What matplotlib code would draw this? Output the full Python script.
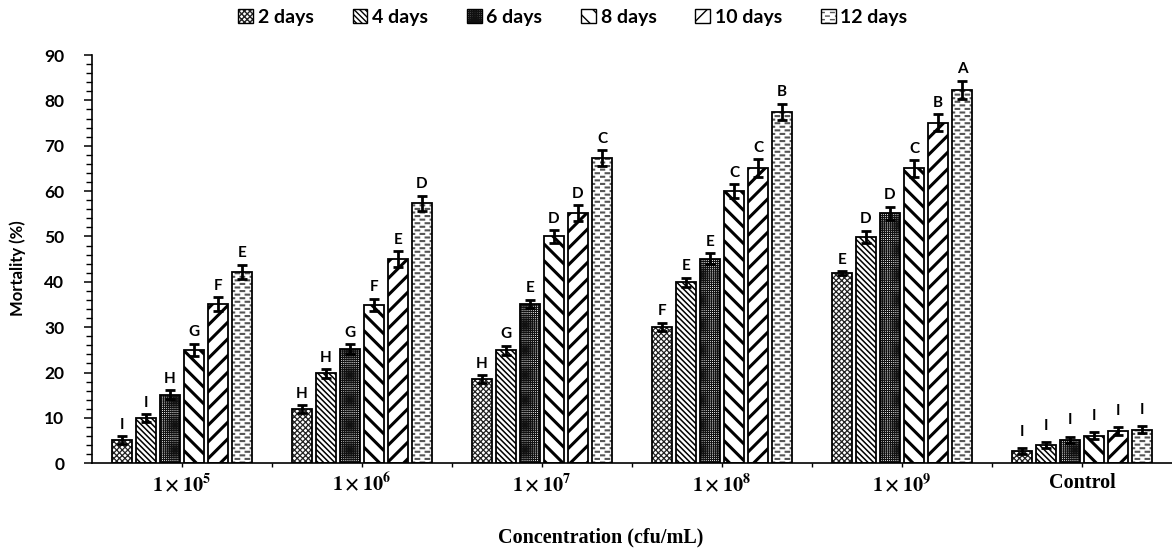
import numpy as np
import matplotlib
matplotlib.use("Agg")
import matplotlib.pyplot as plt
import matplotlib.hatch as mhatch
from matplotlib.path import Path
from matplotlib.patches import Patch
from matplotlib.legend_handler import HandlerTuple

# ---------------- data ----------------
groups = [r"$\mathbf{1\times10^{5}}$", r"$\mathbf{1\times10^{6}}$", r"$\mathbf{1\times10^{7}}$",
          r"$\mathbf{1\times10^{8}}$", r"$\mathbf{1\times10^{9}}$", "Control"]
series_names = ["2 days", "4 days", "6 days", "8 days", "10 days", "12 days"]

d2 = [5.1, 11.9, 18.5, 30.1, 41.9, 2.7]
d4 = [9.9, 19.8, 24.9, 39.9, 49.9, 4.0]
d6 = [15.1, 25.1, 35.1, 45.1, 55.1, 5.2]
d8 = [25.0, 34.9, 50.0, 60.0, 65.0, 6.1]
d10 = [35.1, 45.0, 55.1, 65.1, 75.1, 7.1]
d12 = [42.2, 57.3, 67.3, 77.4, 82.3, 7.4]

e2 = [0.9, 0.9, 0.9, 0.9, 0.4, 0.6]
e4 = [0.9, 0.9, 1.0, 1.0, 1.3, 0.6]
e6 = [0.95, 1.1, 0.9, 1.2, 1.5, 0.7]
e8 = [1.3, 1.4, 1.4, 1.5, 1.8, 0.8]
e10 = [1.5, 1.7, 1.8, 1.9, 1.8, 0.8]
e12 = [1.6, 1.7, 1.7, 1.8, 2.0, 0.8]

l2 = ["I", "H", "H", "F", "E", "I"]
l4 = ["I", "H", "G", "E", "D", "I"]
l6 = ["H", "G", "E", "E", "D", "I"]
l8 = ["G", "F", "D", "C", "C", "I"]
l10 = ["F", "E", "D", "C", "B", "I"]
l12 = ["E", "D", "C", "B", "A", "I"]

values = [d2, d4, d6, d8, d10, d12]
errors = [e2, e4, e6, e8, e10, e12]
letters = [l2, l4, l6, l8, l10, l12]

# ---------------- custom dashed hatch (replaces horizontal hatch) ----------------
class DashHatch(mhatch.HatchPatternBase):
    def __init__(self, hatch, density):
        self.dash = hatch.count('-') > 0
        if self.dash:
            self.rows, self.cols = 28, 10
            self.num_lines = self.rows * self.cols
        else:
            self.num_lines = int(hatch.count('+') * density)
        self.num_vertices = self.num_lines * 2

    def set_vertices_and_codes(self, vertices, codes):
        if self.dash:
            k = 0
            for r in range(self.rows):
                y = (r + 0.5) / self.rows
                off = 0.0 if r % 2 == 0 else 0.05
                for c in range(self.cols):
                    x0 = c * 0.1 + 0.006 + off
                    vertices[2 * k] = (x0, y)
                    vertices[2 * k + 1] = (x0 + 0.036, y)
                    k += 1
        else:
            steps, stepsize = np.linspace(0.0, 1.0, self.num_lines, False, retstep=True)
            steps += stepsize / 2.
            vertices[0::2, 0] = 0.0
            vertices[0::2, 1] = steps
            vertices[1::2, 0] = 1.0
            vertices[1::2, 1] = steps
        codes[0::2] = Path.MOVETO
        codes[1::2] = Path.LINETO

_i = mhatch._hatch_types.index(mhatch.HorizontalHatch)
mhatch._hatch_types[_i] = DashHatch

# ---------------- style ----------------
plt.rcParams['font.family'] = ['Lato', 'DejaVu Sans']
plt.rcParams['mathtext.fontset'] = 'stix'

hatches = ['xxxxxx', '\\\\\\\\\\\\', '++++++++', '\\\\', '//', '-']
hatch_colors = ['#222222', 'black', '#111111', 'black', 'black', '#555555']
hatch_lws = [0.9, 1.1, 0.8, 2.2, 2.2, 1.5]

fig = plt.figure(figsize=(11.72, 5.48), dpi=100)
ax = fig.add_axes([92 / 1172, 1 - 463.3 / 548, 1 - 92 / 1172, (463.3 - 55) / 548])

x = np.arange(len(groups))
step = 24 / 180
width = 20 / 180

legend_handles = []
for j in range(len(series_names)):
    pos = x + (j - 2.5) * step
    with plt.rc_context({'hatch.linewidth': hatch_lws[j]}):
        hb = ax.bar(pos, values[j], width, color='white', edgecolor=hatch_colors[j],
                    hatch=hatches[j], linewidth=0, zorder=2)
        for p in hb:
            try:
                p.set_hatch_linewidth(hatch_lws[j])
            except AttributeError:
                pass
        ax.bar(pos, values[j], width, fill=False, edgecolor='black', linewidth=1.3, zorder=3)
        ax.errorbar(pos, values[j], yerr=errors[j], fmt='none', ecolor='black',
                    elinewidth=2.0, capsize=3.5, capthick=2.0, zorder=4)
        hp = Patch(facecolor='white', edgecolor=hatch_colors[j], hatch=hatches[j], linewidth=0)
        try:
            hp.set_hatch_linewidth(min(hatch_lws[j], 1.2))
        except AttributeError:
            pass
    op = Patch(facecolor='none', edgecolor='black', linewidth=1.0)
    legend_handles.append((hp, op))
    for i in range(len(groups)):
        gap = 2.0 if groups[i] == "Control" else 1.0
        ax.text(pos[i], values[j][i] + errors[j][i] + gap, letters[j][i],
                ha='center', va='bottom', fontsize=11, fontweight='bold', zorder=5)

ax.set_xlim(-0.5, len(groups) - 0.5)
ax.set_ylim(0, 90)
ax.set_yticks(np.arange(0, 91, 10))
ax.set_yticks(np.arange(0, 91, 2), minor=True)
ax.tick_params(axis='y', which='major', length=6, width=1.1, pad=14, labelsize=12.5)
ax.tick_params(axis='y', which='minor', length=4, width=1.0)
for lab in ax.get_yticklabels():
    lab.set_fontweight('bold')

ax.set_xticks(x[:-1] + 0.5)
ax.set_xticklabels([])
ax.set_xticks(x, minor=True)
ax.set_xticklabels(groups, minor=True, fontsize=14.5, fontweight='bold',
                   family=['Liberation Serif', 'DejaVu Serif'])
ax.tick_params(axis='x', which='both', length=3, width=1.0, pad=4)

for s in ['top', 'right']:
    ax.spines[s].set_visible(False)
for s in ['left', 'bottom']:
    ax.spines[s].set_linewidth(1.2)

fig.text(18 / 1172, 1 - 268 / 548, "Mortality (%)", rotation=90, ha='center', va='center',
         fontsize=12, fontweight='bold')
fig.text(601 / 1172, 1 - 537 / 548, "Concentration (cfu/mL)", ha='center', va='center',
         fontsize=14.5, fontweight='bold', family=['Liberation Serif', 'DejaVu Serif'])

fig.legend(legend_handles, series_names, loc='center', bbox_to_anchor=(573 / 1172, 1 - 17 / 548),
           ncol=6, frameon=False, prop={'weight': 'bold', 'size': 14},
           handler_map={tuple: HandlerTuple(ndivide=1, pad=0)},
           handlelength=0.75, handleheight=0.75, handletextpad=0.25, columnspacing=2.0,
           borderpad=0)

fig.savefig("out.png", dpi=100)
